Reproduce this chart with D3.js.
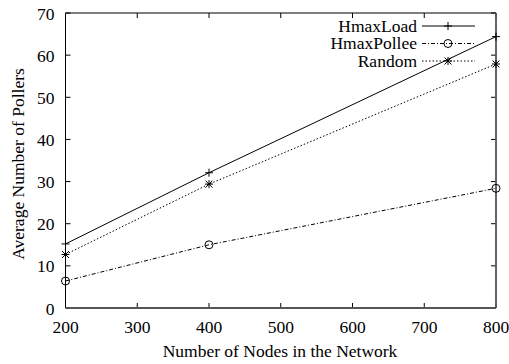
<!DOCTYPE html>
<html>
<head>
<meta charset="utf-8">
<script src="https://cdn.jsdelivr.net/npm/d3@7.9.0/dist/d3.min.js"></script>
<style>
  body { margin: 0; background: #fff; }
</style>
</head>
<body>
<svg id="chart"></svg>
<script>
// data
const nodes = [200, 400, 800];
const hmaxLoad = [15.2, 32.1, 64.4];
const hmaxPollee = [6.4, 15.0, 28.4];
const random = [12.7, 29.4, 57.9];

const seriesNames = ['HmaxLoad', 'HmaxPollee', 'Random'];
const xTicks = [200, 300, 400, 500, 600, 700, 800];
const yTicks = [0, 10, 20, 30, 40, 50, 60, 70];

const width = 509, height = 364;
const margin = { top: 13, right: 13, bottom: 56, left: 65.5 };
const fontFam = 'Liberation Serif';
const fs = 17.5;

const svg = d3.select('#chart').attr('width', width).attr('height', height);

const x = d3.scaleLinear().domain([200, 800]).range([margin.left, width - margin.right]);
const y = d3.scaleLinear().domain([0, 70]).range([height - margin.bottom, margin.top]);

const series = [
  { name: seriesNames[0], values: hmaxLoad, dash: null, marker: 'plus' },
  { name: seriesNames[1], values: hmaxPollee, dash: '4,2,1,2', marker: 'circle' },
  { name: seriesNames[2], values: random, dash: '1.5,2', marker: 'star' }
];

// ticks (inside, mirrored)
const tl = 5;
const g = svg.append('g').attr('stroke', '#000').attr('stroke-width', 1);
xTicks.forEach(t => {
  g.append('line').attr('x1', x(t)).attr('x2', x(t)).attr('y1', y(0)).attr('y2', y(0) - tl);
  g.append('line').attr('x1', x(t)).attr('x2', x(t)).attr('y1', y(70)).attr('y2', y(70) + tl);
});
yTicks.forEach(t => {
  g.append('line').attr('x1', x(200)).attr('x2', x(200) + tl).attr('y1', y(t)).attr('y2', y(t));
  g.append('line').attr('x1', x(800)).attr('x2', x(800) - tl).attr('y1', y(t)).attr('y2', y(t));
});

// frame
svg.append('line').attr('x1', x(200)).attr('x2', x(800)).attr('y1', y(70)).attr('y2', y(70)).attr('stroke', '#000');
svg.append('line').attr('x1', x(200)).attr('x2', x(200)).attr('y1', y(0)).attr('y2', y(70)).attr('stroke', '#000');
svg.append('line').attr('x1', x(200)).attr('x2', x(800)).attr('y1', y(0)).attr('y2', y(0)).attr('stroke', '#555').attr('stroke-width', 1.8);
svg.append('line').attr('x1', x(800)).attr('x2', x(800)).attr('y1', y(0)).attr('y2', y(70)).attr('stroke', '#555').attr('stroke-width', 1.8);

// tick labels
svg.append('g').selectAll('text').data(xTicks).join('text')
  .attr('x', d => x(d)).attr('y', y(0) + 25)
  .attr('font-family', fontFam).attr('text-anchor', 'middle').attr('font-size', fs).text(d => d);
svg.append('g').selectAll('text').data(yTicks).join('text')
  .attr('x', x(200) - 11).attr('y', d => y(d) + 6.5)
  .attr('font-family', fontFam).attr('text-anchor', 'end').attr('font-size', fs).text(d => d);

// axis titles
svg.append('text').attr('x', 280).attr('y', 357)
  .attr('font-family', fontFam).attr('text-anchor', 'middle').attr('font-size', fs)
  .text('Number of Nodes in the Network');
svg.append('text').attr('transform', 'translate(24,164) rotate(-90)')
  .attr('font-family', fontFam).attr('text-anchor', 'middle').attr('font-size', fs)
  .text('Average Number of Pollers');

function drawMarker(sel, type, cx, cy) {
  if (type === 'plus' || type === 'star') {
    sel.append('line').attr('x1', cx - 4).attr('x2', cx + 4).attr('y1', cy).attr('y2', cy).attr('stroke', '#000');
    sel.append('line').attr('x1', cx).attr('x2', cx).attr('y1', cy - 4).attr('y2', cy + 4).attr('stroke', '#000');
  }
  if (type === 'star') {
    sel.append('line').attr('x1', cx - 3.5).attr('x2', cx + 3.5).attr('y1', cy - 3.5).attr('y2', cy + 3.5).attr('stroke', '#000');
    sel.append('line').attr('x1', cx - 3.5).attr('x2', cx + 3.5).attr('y1', cy + 3.5).attr('y2', cy - 3.5).attr('stroke', '#000');
  }
  if (type === 'circle') {
    sel.append('circle').attr('cx', cx).attr('cy', cy).attr('r', 4).attr('fill', 'none').attr('stroke', '#000');
  }
}

const line = d3.line().x((d, i) => x(nodes[i])).y(d => y(d));
series.forEach(s => {
  svg.append('path').attr('d', line(s.values)).attr('fill', 'none')
    .attr('stroke', '#000').attr('stroke-width', 1)
    .attr('stroke-dasharray', s.dash);
  const mg = svg.append('g');
  s.values.forEach((v, i) => drawMarker(mg, s.marker, x(nodes[i]), y(v)));
});

// legend
const legY = [26, 43.5, 61];
series.forEach((s, i) => {
  svg.append('text').attr('x', 417).attr('y', legY[i] + 5.5)
    .attr('font-family', fontFam).attr('text-anchor', 'end').attr('font-size', fs).text(s.name);
  svg.append('line').attr('x1', 422).attr('x2', 475).attr('y1', legY[i]).attr('y2', legY[i])
    .attr('stroke', '#000').attr('stroke-dasharray', s.dash);
  drawMarker(svg.append('g'), s.marker, 448, legY[i]);
});
</script>
</body>
</html>
